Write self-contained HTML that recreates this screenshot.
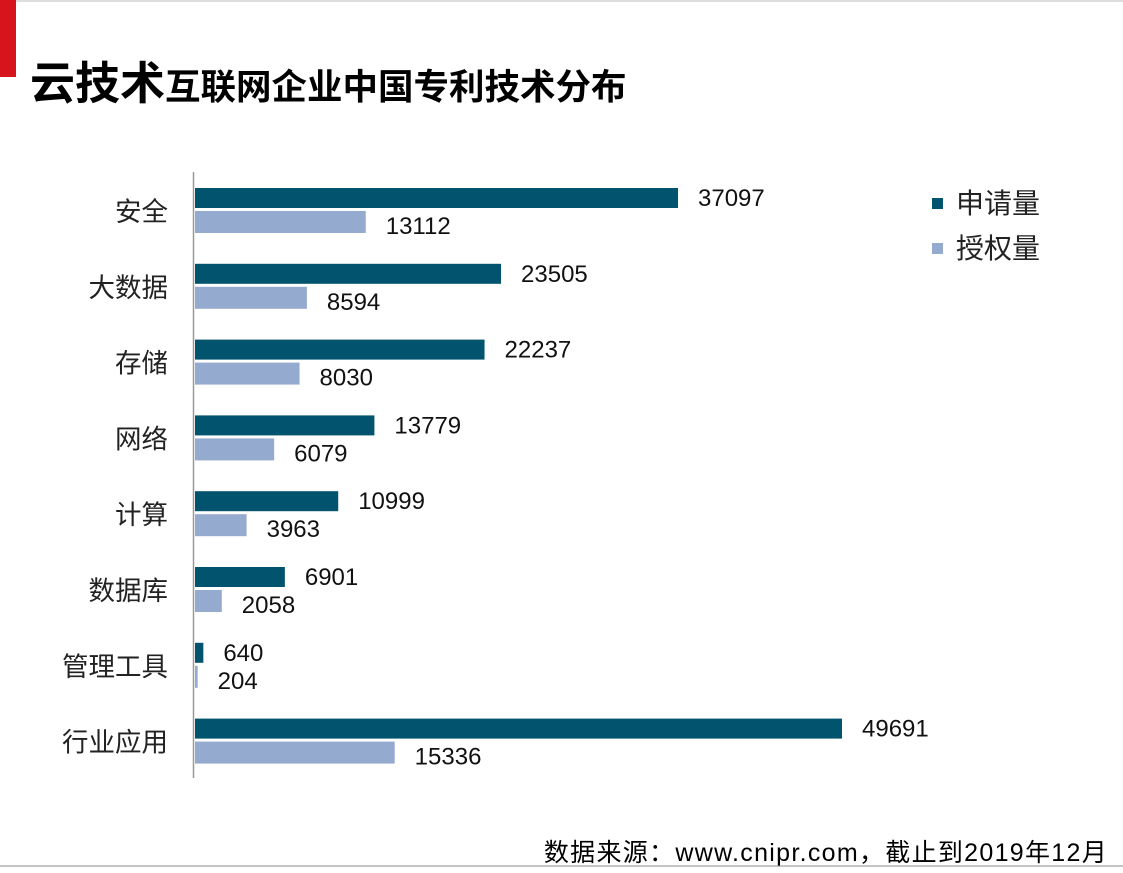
<!DOCTYPE html>
<html><head><meta charset="utf-8">
<style>
html,body{margin:0;padding:0;background:#fff;}
body{width:1123px;height:868px;overflow:hidden;position:relative;font-family:"Liberation Sans","Noto Sans CJK SC",sans-serif;}
svg text{font-family:"Liberation Sans","Noto Sans CJK SC",sans-serif;}
</style></head>
<body>
<svg width="1123" height="868">
<line x1="0" y1="1" x2="1123" y2="1" stroke="#bbb" stroke-width="1"/>
<rect x="0" y="0" width="16" height="77" fill="#d7141c"/>
<text x="30" y="99" font-weight="bold" fill="#000"><tspan font-size="45">云技术</tspan><tspan font-size="35.5">互联网企业中国专利技术分布</tspan></text>
<line x1="193.5" y1="172" x2="193.5" y2="778" stroke="#999" stroke-width="1.5"/>
<g id="bars"></g>
<rect x="932" y="198" width="11" height="11" fill="#02536e"/>
<text x="956" y="213" font-size="28" fill="#222">申请量</text>
<rect x="932" y="243" width="11" height="11" fill="#95aacf"/>
<text x="956" y="258" font-size="28" fill="#222">授权量</text>
<text x="1108" y="861" font-size="25" letter-spacing="1.3" text-anchor="end" fill="#000">数据来源：www.cnipr.com，截止到2019年12月</text>
<line x1="0" y1="866" x2="1123" y2="866" stroke="#888" stroke-width="1"/>
</svg>
<script>
const categories = ["安全","大数据","存储","网络","计算","数据库","管理工具","行业应用"];
const applications = [37097,23505,22237,13779,10999,6901,640,49691];
const grants = [13112,8594,8030,6079,3963,2058,204,15336];

const NS = "http://www.w3.org/2000/svg";
const g = document.getElementById("bars");
const x0 = 195, pxPer = (842 - 195) / 49691;
function xs(v){ return x0 + v * pxPer; }
function rowTop(i){ return 188 + i * 75.8; }
function mk(tag, attrs){ const e = document.createElementNS(NS, tag); for (const k in attrs) e.setAttribute(k, attrs[k]); return e; }

categories.forEach((c, i) => {
  const t = rowTop(i);
  const lab = mk("text", {x: 168, y: t + 33, "font-size": 26.5, "text-anchor": "end", fill: "#222"});
  lab.textContent = c;
  
  
  g.appendChild(lab);

  const b1 = mk("rect", {x: x0, y: t, width: Math.max(xs(applications[i]) - x0, 0), height: 20, fill: "#02536e"});
  
  
  g.appendChild(b1);
  const v1 = mk("text", {x: xs(applications[i]) + 20, y: t + 18, "font-size": 24, fill: "#111"});
  v1.textContent = applications[i];
  
  
  g.appendChild(v1);

  const b2 = mk("rect", {x: x0, y: t + 23, width: Math.max(xs(grants[i]) - x0, 0), height: 22, fill: "#95aacf"});
  
  
  g.appendChild(b2);
  const v2 = mk("text", {x: xs(grants[i]) + 20, y: t + 46, "font-size": 24, fill: "#111"});
  v2.textContent = grants[i];
  
  
  g.appendChild(v2);
});
</script>
</body></html>
